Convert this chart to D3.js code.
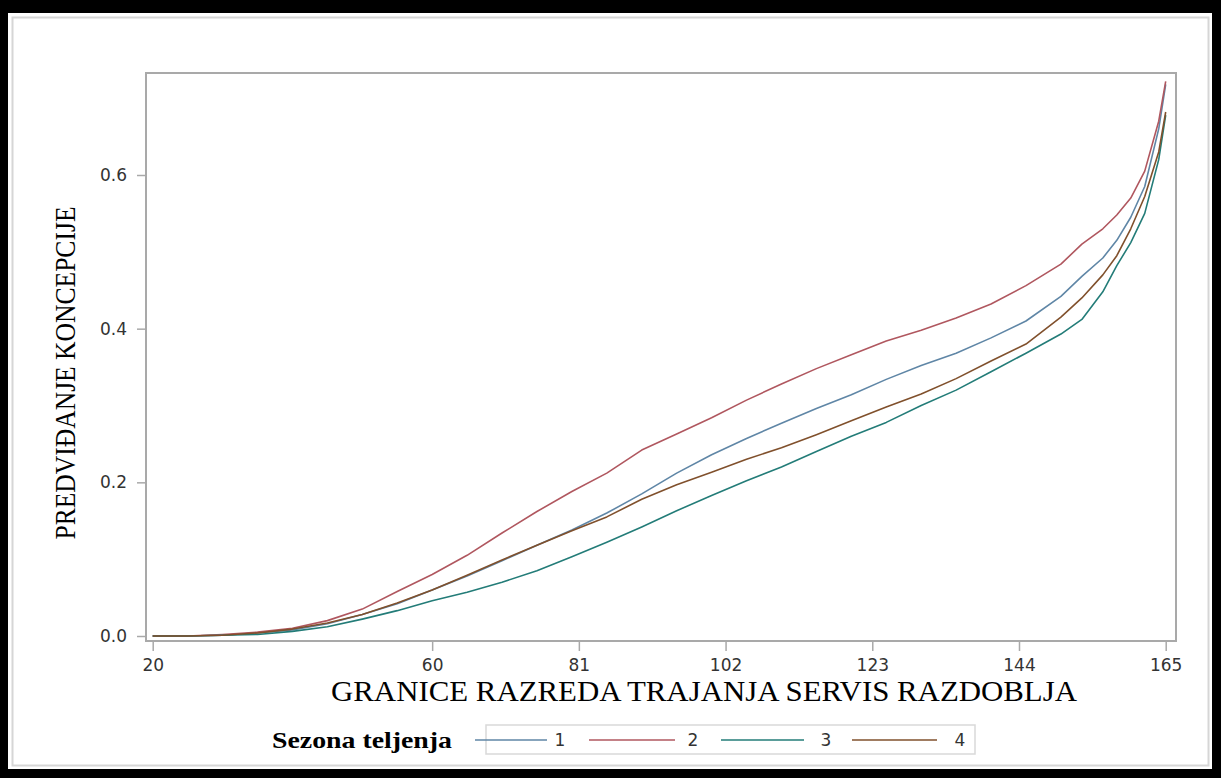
<!DOCTYPE html>
<html><head><meta charset="utf-8">
<script src="https://cdn.jsdelivr.net/npm/d3@7"></script>
<style>body{margin:0;background:#fff}svg{display:block}</style>
</head><body><svg id="c" width="1221" height="778"></svg>
<script>
const xVals = [20,25,30,35,40,45,50,55,60,65,70,75,80,85,90,95,100,105,110,115,120,125,130,135,140,145,150,153,156,158,160,162,164,165];
const season1 = [0,0,0.001,0.004,0.008,0.016,0.028,0.042,0.060,0.078,0.098,0.118,0.138,0.160,0.185,0.212,0.236,0.257,0.277,0.296,0.314,0.334,0.352,0.368,0.388,0.410,0.442,0.468,0.492,0.515,0.545,0.585,0.660,0.718];
const season2 = [0,0,0.002,0.005,0.010,0.020,0.035,0.058,0.080,0.105,0.134,0.162,0.188,0.212,0.242,0.263,0.284,0.307,0.328,0.348,0.366,0.384,0.398,0.414,0.432,0.456,0.484,0.510,0.530,0.548,0.570,0.605,0.670,0.722];
const season3 = [0,0,0.001,0.002,0.006,0.012,0.022,0.033,0.046,0.057,0.070,0.085,0.103,0.122,0.142,0.163,0.183,0.202,0.220,0.240,0.260,0.278,0.300,0.320,0.344,0.368,0.393,0.412,0.448,0.482,0.512,0.550,0.620,0.678];
const season4 = [0,0,0.001,0.004,0.009,0.017,0.028,0.043,0.060,0.079,0.099,0.118,0.137,0.155,0.178,0.197,0.213,0.230,0.245,0.262,0.280,0.298,0.315,0.335,0.358,0.380,0.415,0.440,0.470,0.495,0.530,0.572,0.630,0.682];
const seriesNames = ["1","2","3","4"];
const xTicks = [20,60,81,102,123,144,165];
const yTicks = [0,0.2,0.4,0.6];
const xTitle = "GRANICE RAZREDA TRAJANJA SERVIS RAZDOBLJA";
const yTitle = "PREDVIĐANJE KONCEPCIJE";
const legendTitle = "Sezona teljenja";

const colors = ["#5f86a6","#b0575f","#237c78","#80502c"];
const allSeries = [season1, season2, season3, season4];

const svg = d3.select("#c");
// outer frame
svg.append("rect").attr("x",0).attr("y",0).attr("width",1221).attr("height",778).attr("fill","#000");
svg.append("rect").attr("x",8).attr("y",13).attr("width",1204).attr("height",756).attr("fill","#fff");
svg.append("rect").attr("x",12.5).attr("y",17.5).attr("width",1196).attr("height",748).attr("fill","none").attr("stroke","#d6d6d6").attr("stroke-width",2);

const L=146, R=1176, T=73, B=641;
const x = d3.scaleLinear().domain([20,165]).range([152.7,1165.7]);
const y = d3.scaleLinear().domain([0,0.6]).range([636,175]);

svg.append("rect").attr("x",L).attr("y",T).attr("width",R-L).attr("height",B-T)
  .attr("fill","#fff").attr("stroke","#a9a9a9").attr("stroke-width",2);

const line = d3.line().x((d,i)=>x(xVals[i])).y(d=>y(d));
allSeries.forEach((s,k)=>{
  svg.append("path").datum(s).attr("d",line).attr("fill","none")
    .attr("stroke",colors[k]).attr("stroke-width",1.6).attr("stroke-linejoin","round");
});

const gx = svg.append("g").attr("transform",`translate(0,${B})`)
  .call(d3.axisBottom(x).tickValues(xTicks).tickSize(10).tickPadding(8).tickFormat(d3.format("d")));
gx.select(".domain").remove();
gx.selectAll("line").attr("stroke","#a9a9a9").attr("stroke-width",1.5);
gx.selectAll("text").attr("font-family","DejaVu Sans").attr("font-size",17).attr("fill","#333");

const gy = svg.append("g").attr("transform",`translate(${L},0)`)
  .call(d3.axisLeft(y).tickValues(yTicks).tickSize(9).tickPadding(10).tickFormat(d3.format(".1f")));
gy.select(".domain").remove();
gy.selectAll("line").attr("stroke","#a9a9a9").attr("stroke-width",1.5);
gy.selectAll("text").attr("font-family","DejaVu Sans").attr("font-size",17).attr("fill","#333");

svg.append("text").attr("x",704).attr("y",701).attr("text-anchor","middle")
  .attr("font-family","Liberation Serif").attr("font-size",30).attr("fill","#000")
  .attr("textLength",746).attr("lengthAdjust","spacingAndGlyphs").text(xTitle);

svg.append("text").attr("transform","translate(75,373) rotate(-90)").attr("text-anchor","middle")
  .attr("font-family","Liberation Serif").attr("font-size",30).attr("fill","#000")
  .attr("textLength",333).attr("lengthAdjust","spacingAndGlyphs").text(yTitle);

// legend
svg.append("rect").attr("x",486).attr("y",725).attr("width",489).attr("height",29)
  .attr("fill","#fff").attr("stroke","#d9d9d9").attr("stroke-width",1.5);
svg.append("text").attr("x",272).attr("y",748).attr("font-family","Liberation Serif")
  .attr("font-weight","bold").attr("font-size",24).attr("fill","#000")
  .attr("textLength",180).attr("lengthAdjust","spacingAndGlyphs").text(legendTitle);
const lx = [[475,547,560],[589,675,693],[721,804,826],[852,937,960]];
seriesNames.forEach((n,k)=>{
  svg.append("line").attr("x1",lx[k][0]).attr("x2",lx[k][1]).attr("y1",740).attr("y2",740)
    .attr("stroke",colors[k]).attr("stroke-width",1.6);
  svg.append("text").attr("x",lx[k][2]).attr("y",746).attr("text-anchor","middle")
    .attr("font-family","DejaVu Sans").attr("font-size",17).attr("fill","#333").text(n);
});
</script></body></html>
